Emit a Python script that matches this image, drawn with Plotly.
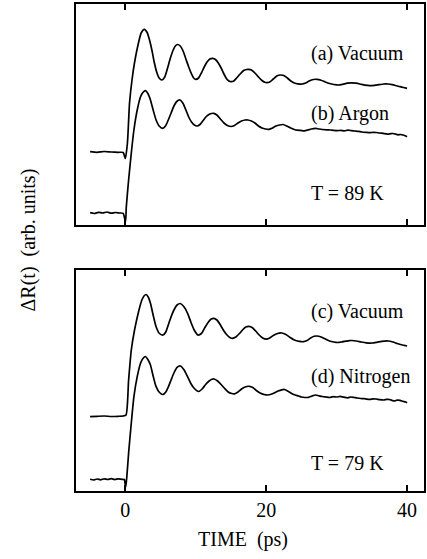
import plotly.graph_objects as go

# ---- data (time in ps, signal in arbitrary units) ----
t_a = [-5, -4, -3, -2, -1, -0.3, 0, 0.3, 0.6, 0.95, 1.3, 1.8, 2.25, 2.7, 3.1, 3.4, 3.8, 4.1, 4.45,
       4.8, 5.2, 5.6, 6.0, 6.4, 6.8, 7.1, 7.4, 7.8, 8.2, 8.6, 9.0, 9.4, 9.7, 10.0, 10.4, 10.8, 11.2,
       11.6, 12.0, 12.4, 12.8, 13.2, 13.6, 14.0, 14.4, 14.7, 15.0, 15.4, 15.8, 16.3, 16.8, 17.2,
       17.5, 17.9, 18.4, 18.9, 19.4, 19.8, 20.1, 20.5, 21.0, 21.5, 22.0, 22.5, 23.0, 23.5, 24.0,
       24.5, 25.1, 25.6, 26.1, 26.7, 27.2, 27.8, 28.4, 29.0, 29.6, 30.3, 30.9, 31.5, 32.1, 32.7,
       33.3, 34.0, 34.7, 35.4, 36.0, 36.7, 37.3, 37.9, 38.5, 39.0, 39.5, 40.0]
y_a = [0.733, 0.727, 0.735, 0.730, 0.727, 0.725, 0.665, 0.82, 1.22, 1.45, 1.62, 1.80, 1.92, 1.957,
       1.925, 1.86, 1.74, 1.63, 1.53, 1.47, 1.45, 1.48, 1.57, 1.67, 1.75, 1.79, 1.805, 1.79, 1.74,
       1.66, 1.58, 1.51, 1.47, 1.457, 1.47, 1.52, 1.58, 1.63, 1.66, 1.667, 1.655, 1.62, 1.57, 1.51,
       1.46, 1.44, 1.433, 1.44, 1.47, 1.51, 1.545, 1.555, 1.557, 1.55, 1.52, 1.48, 1.445, 1.427,
       1.423, 1.43, 1.46, 1.49, 1.50, 1.495, 1.47, 1.44, 1.42, 1.412, 1.41, 1.42, 1.44, 1.455,
       1.457, 1.448, 1.43, 1.415, 1.405, 1.40, 1.408, 1.418, 1.422, 1.418, 1.41, 1.398, 1.393,
       1.397, 1.403, 1.41, 1.41, 1.403, 1.392, 1.383, 1.375, 1.367]

t_b = [-5, -4.4, -3.8, -3.2, -2.6, -2.0, -1.4, -0.8, -0.3, 0.03, 0.14, 0.47, 0.85, 1.22, 1.69, 2.16,
       2.5, 2.85, 3.2, 3.57, 3.95, 4.37, 4.8, 5.3, 5.7, 6.1, 6.5, 6.9, 7.3, 7.75, 8.2, 8.6, 9.0, 9.4,
       9.8, 10.2, 10.6, 11.0, 11.5, 12.0, 12.55, 13.0, 13.5, 14.0, 14.5, 15.0, 15.5, 16.0, 16.5,
       17.0, 17.4, 17.9, 18.4, 18.9, 19.4, 19.9, 20.4, 20.9, 21.4, 21.9, 22.4, 22.9, 23.4, 23.9,
       24.4, 24.9, 25.4, 25.9, 26.4, 27.0, 27.5, 28.0, 28.6, 29.1, 29.6, 30.1, 30.6, 31.1, 31.6,
       32.1, 32.6, 33.1, 33.6, 34.2, 34.7, 35.2, 35.6, 36.1, 36.6, 37.0, 37.3, 37.7, 38.0, 38.4,
       38.7, 39.1, 39.4, 39.7, 40.0]
y_b = [0.123, 0.115, 0.127, 0.120, 0.130, 0.118, 0.125, 0.120, 0.117, 0.03, 0.183, 0.45, 0.72, 0.95,
       1.15, 1.283, 1.325, 1.343, 1.315, 1.25, 1.15, 1.05, 0.99, 0.967, 0.99, 1.05, 1.12, 1.19,
       1.235, 1.25, 1.215, 1.15, 1.08, 1.03, 1.00, 0.99, 1.005, 1.04, 1.085, 1.11, 1.117, 1.10,
       1.06, 1.02, 0.995, 0.985, 0.995, 1.02, 1.04, 1.05, 1.05, 1.04, 1.02, 0.99, 0.97, 0.96,
       0.957, 0.97, 0.99, 1.00, 1.005, 0.99, 0.972, 0.958, 0.948, 0.946, 0.942, 0.95, 0.96, 0.967,
       0.96, 0.955, 0.952, 0.95, 0.946, 0.944, 0.946, 0.942, 0.948, 0.944, 0.94, 0.936, 0.93,
       0.926, 0.923, 0.927, 0.925, 0.92, 0.917, 0.912, 0.908, 0.914, 0.915, 0.908, 0.902, 0.905,
       0.90, 0.893, 0.883]

t_c = [-5, -4, -3, -2, -1, -0.3, 0.1, 0.47, 0.85, 1.31, 1.88, 2.35, 2.65, 2.95, 3.25, 3.57, 3.95,
       4.37, 4.85, 5.35, 5.75, 6.1, 6.5, 6.9, 7.35, 7.8, 8.3, 8.84, 9.3, 9.78, 10.3, 10.8, 11.3,
       11.8, 12.2, 12.55, 13.0, 13.5, 14.0, 14.5, 14.9, 15.2, 15.7, 16.2, 16.7, 17.1, 17.55, 18.0,
       18.5, 19.0, 19.5, 20.0, 20.5, 21.0, 21.6, 22.2, 22.8, 23.4, 24.0, 24.7, 25.3, 25.8, 26.3,
       26.8, 27.2, 27.8, 28.4, 29.0, 29.6, 30.1, 30.7, 31.3, 31.8, 32.2, 32.8, 33.5, 34.2, 35.0,
       35.7, 36.4, 37.3, 38.0, 38.6, 39.2, 39.6, 40.0]
y_c = [0.743, 0.747, 0.750, 0.745, 0.747, 0.750, 0.76, 1.11, 1.41, 1.61, 1.793, 1.91, 1.95, 1.965,
       1.94, 1.877, 1.76, 1.643, 1.575, 1.56, 1.59, 1.66, 1.743, 1.81, 1.86, 1.875, 1.845, 1.777,
       1.69, 1.61, 1.56, 1.575, 1.635, 1.69, 1.72, 1.727, 1.71, 1.66, 1.60, 1.555, 1.533, 1.527,
       1.54, 1.575, 1.615, 1.64, 1.647, 1.635, 1.60, 1.56, 1.53, 1.518, 1.53, 1.555, 1.575, 1.58,
       1.565, 1.535, 1.51, 1.497, 1.493, 1.505, 1.53, 1.547, 1.55, 1.54, 1.52, 1.50, 1.49, 1.485,
       1.49, 1.498, 1.504, 1.505, 1.50, 1.49, 1.482, 1.48, 1.487, 1.496, 1.50, 1.49, 1.475, 1.462,
       1.456, 1.45]

t_d = [-5, -4.5, -4.0, -3.5, -3.0, -2.5, -2.0, -1.5, -1.0, -0.5, -0.15, 0.05, 0.2, 0.47, 0.85, 1.22,
       1.69, 2.16, 2.5, 2.87, 3.2, 3.57, 3.95, 4.37, 4.85, 5.35, 5.75, 6.1, 6.5, 6.9, 7.35, 7.8, 8.3,
       8.84, 9.3, 9.8, 10.4, 10.9, 11.4, 11.9, 12.3, 12.6, 13.1, 13.6, 14.1, 14.6, 15.1, 15.5, 16.0,
       16.5, 17.0, 17.6, 18.1, 18.6, 19.2, 19.7, 20.2, 20.7, 21.2, 21.7, 22.2, 22.6, 23.1, 23.6,
       24.1, 24.6, 25.0, 25.5, 26.0, 26.5, 27.0, 27.5, 28.0, 28.5, 29.0, 29.5, 30.0, 30.5, 31.0,
       31.6, 32.0, 32.4, 32.9, 33.4, 33.9, 34.3, 34.7, 35.2, 35.6, 36.1, 36.7, 37.1, 37.5, 37.9,
       38.2, 38.6, 39.0, 39.3, 39.5, 39.8, 40.0]
y_d = [0.117, 0.110, 0.120, 0.112, 0.122, 0.115, 0.123, 0.114, 0.122, 0.117, 0.115, 0.04, 0.13,
       0.38, 0.68, 0.943, 1.143, 1.277, 1.325, 1.345, 1.315, 1.26, 1.15, 1.043, 0.985, 0.965, 0.99,
       1.04, 1.11, 1.18, 1.235, 1.25, 1.215, 1.143, 1.075, 1.025, 0.995, 1.02, 1.065, 1.10, 1.117,
       1.12, 1.10, 1.065, 1.025, 0.99, 0.975, 0.972, 0.99, 1.02, 1.04, 1.047, 1.035, 1.005, 0.977,
       0.965, 0.96, 0.967, 0.982, 1.00, 1.012, 1.015, 0.998, 0.975, 0.96, 0.95, 0.94, 0.935, 0.937,
       0.95, 0.96, 0.952, 0.945, 0.94, 0.935, 0.943, 0.94, 0.946, 0.938, 0.932, 0.94, 0.937, 0.93,
       0.925, 0.924, 0.919, 0.917, 0.922, 0.92, 0.914, 0.91, 0.916, 0.915, 0.905, 0.90, 0.909,
       0.907, 0.898, 0.895, 0.89, 0.883]

x_ticks = [0, 20, 40]
x_tick_text = ["0", "20", "40"]

labels_top = [("(a) Vacuum", 1.72), ("(b) Argon", 1.12), ("T = 89 K", 0.32)]
labels_bot = [("(c) Vacuum", 1.793), ("(d) Nitrogen", 1.143), ("T = 79 K", 0.28)]

FONT = "Liberation Serif, Times New Roman, serif"
line = dict(color="black", width=1.7, shape="spline", smoothing=0.6)

fig = go.Figure()
fig.add_trace(go.Scatter(x=t_a, y=y_a, mode="lines", line=line, xaxis="x", yaxis="y"))
fig.add_trace(go.Scatter(x=t_b, y=y_b, mode="lines", line=line, xaxis="x", yaxis="y"))
fig.add_trace(go.Scatter(x=t_c, y=y_c, mode="lines", line=line, xaxis="x2", yaxis="y2"))
fig.add_trace(go.Scatter(x=t_d, y=y_d, mode="lines", line=line, xaxis="x2", yaxis="y2"))

xcommon = dict(range=[-7.0, 42.4], tickvals=x_ticks, ticktext=x_tick_text, ticks="inside",
               ticklen=6, tickwidth=1.5, tickcolor="black", showline=True, linecolor="black",
               linewidth=2, mirror="ticks", showgrid=False, zeroline=False)
ycommon = dict(range=[0, 2.21], showticklabels=False, ticks="", showline=True, linecolor="black",
               linewidth=2, mirror=True, showgrid=False, zeroline=False)

annotations = []
for txt, yv in labels_top:
    annotations.append(dict(x=26.1, y=yv, xref="x", yref="y", text=txt, showarrow=False,
                            xanchor="left", yanchor="middle", font=dict(size=20, family=FONT, color="black")))
for txt, yv in labels_bot:
    annotations.append(dict(x=26.1, y=yv, xref="x2", yref="y2", text=txt, showarrow=False,
                            xanchor="left", yanchor="middle", font=dict(size=20, family=FONT, color="black")))
annotations.append(dict(x=0.48, y=-0.1006, xref="paper", yref="paper", text="TIME  (ps)",
                        showarrow=False, xanchor="center", yanchor="middle",
                        font=dict(size=20, family=FONT, color="black")))
annotations.append(dict(x=-0.137, y=0.515, xref="paper", yref="paper", text="ΔR(t)  (arb. units)",
                        textangle=-90, showarrow=False, xanchor="center", yanchor="middle",
                        font=dict(size=20, family=FONT, color="black")))

fig.update_layout(
    width=427, height=559,
    margin=dict(l=76, r=1, t=4, b=68),
    paper_bgcolor="white", plot_bgcolor="white",
    showlegend=False,
    font=dict(family=FONT, size=20, color="black"),
    xaxis=dict(**xcommon, anchor="y", showticklabels=False),
    yaxis=dict(**ycommon, domain=[0.5462, 1.0], anchor="x"),
    xaxis2=dict(**xcommon, anchor="y2", showticklabels=True, tickfont=dict(size=20, family=FONT)),
    yaxis2=dict(**ycommon, domain=[0.0, 0.4538], anchor="x2"),
    annotations=annotations,
)

fig.write_html("out.html", config={"displayModeBar": False},
               post_script="document.body.style.margin='0';document.body.style.overflow='hidden';")
